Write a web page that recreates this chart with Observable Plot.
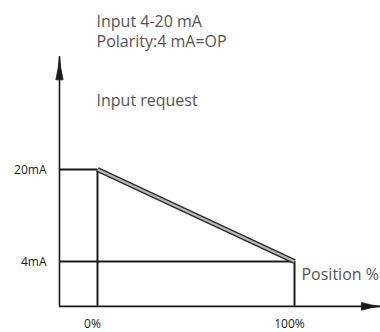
<!DOCTYPE html>
<html>
<head>
<meta charset="utf-8">
<script src="https://cdn.jsdelivr.net/npm/d3@7"></script>
<script src="https://cdn.jsdelivr.net/npm/@observablehq/plot@0.6"></script>
<style>
  html, body { margin: 0; padding: 0; background: #fff; }
  #chart svg { display: block; }
</style>
</head>
<body>
<div id="chart"></div>
<script>
// Data
const positions = [0, 100];          // Position %
const currents = [20, 4];            // Input request (mA)
const xTickLabels = ["0%", "100%"];
const yTickLabels = ["20mA", "4mA"];
const xAxisExtent = [-19.3, 143.6];  // drawn x axis (position %)
const yAxisExtent = [-3.8, 39.6];    // drawn y axis (mA)
const titleLines = ["Input 4-20 mA", "Polarity:4 mA=OP"];
const yAxisTitle = "Input request";
const xAxisTitle = "Position %";

const curve = positions.map((p, i) => ({p, c: currents[i]}));

const arrowHead = {
  draw(context, l, r) {
    context.moveTo(0, -l);
    context.quadraticCurveTo(r * 0.25, -l * 0.5, r, 0);
    context.lineTo(-r, 0);
    context.quadraticCurveTo(-r * 0.25, -l * 0.5, 0, -l);
    context.closePath();
  }
};

const ink = "#1a1a1a";
const textGrey = "#555";

const chart = Plot.plot({
  width: 380,
  height: 332,
  margin: 0,
  style: {fontFamily: "'Open Sans', sans-serif", background: "#fff", overflow: "visible"},
  x: {domain: [0, 100], range: [97, 294], axis: null},
  y: {domain: [4, 20], range: [261, 169], axis: null},
  marks: [
    // axes
    Plot.ruleX([xAxisExtent[0]], {y1: yAxisExtent[0], y2: yAxisExtent[1], stroke: ink, strokeWidth: 1.6}),
    Plot.ruleY([yAxisExtent[0]], {x1: xAxisExtent[0], x2: xAxisExtent[1], stroke: ink, strokeWidth: 1.6}),
    Plot.vector([yAxisExtent[1]], {x: xAxisExtent[0], y: d => d, length: 23, r: 3.6, rotate: 0, anchor: "end", shape: arrowHead, fill: ink, stroke: ink, strokeWidth: 0.8}),
    Plot.vector([xAxisExtent[1]], {x: d => d, y: yAxisExtent[0], length: 19, r: 3.8, rotate: 90, anchor: "end", shape: arrowHead, fill: ink, stroke: ink, strokeWidth: 0.8}),
    // guide lines
    Plot.ruleY(currents, {y: d => d, x1: xAxisExtent[0], x2: (d, i) => positions[i], stroke: ink, strokeWidth: 2}),
    Plot.ruleX(positions, {x: d => d, y1: yAxisExtent[0], y2: (d, i) => currents[i], stroke: ink, strokeWidth: 2}),
    // characteristic line (double stroke)
    Plot.line(curve, {x: "p", y: "c", stroke: "#2a2a2a", strokeWidth: 5.2, strokeLinecap: "butt"}),
    Plot.line(curve, {x: "p", y: "c", stroke: "#b8b8b8", strokeWidth: 2.4, strokeLinecap: "butt"}),
    // tick labels
    Plot.text(yTickLabels, {x: xAxisExtent[0], y: (d, i) => currents[i], text: d => d, textAnchor: "end", dx: -13, dy: 1, fontSize: 12, fill: ink}),
    Plot.text(xTickLabels, {x: (d, i) => positions[i], y: yAxisExtent[0], text: d => d, textAnchor: "middle", dx: -5, dy: 18, fontSize: 12, fill: ink}),
    // titles
    Plot.text([titleLines.join("\n")], {x: 0, y: 41.27, text: d => d, textAnchor: "start", lineAnchor: "bottom", lineHeight: 1.25, dx: -1, fontSize: 16, fill: textGrey}),
    Plot.text([yAxisTitle], {x: 0, y: 30.96, text: d => d, textAnchor: "start", lineAnchor: "bottom", dx: -1, fontSize: 16, fill: textGrey}),
    Plot.text([xAxisTitle], {x: 103.55, y: 0.7, text: d => d, textAnchor: "start", lineAnchor: "bottom", fontSize: 16, fill: textGrey})
  ]
});
document.getElementById("chart").appendChild(chart);
</script>
</body>
</html>
